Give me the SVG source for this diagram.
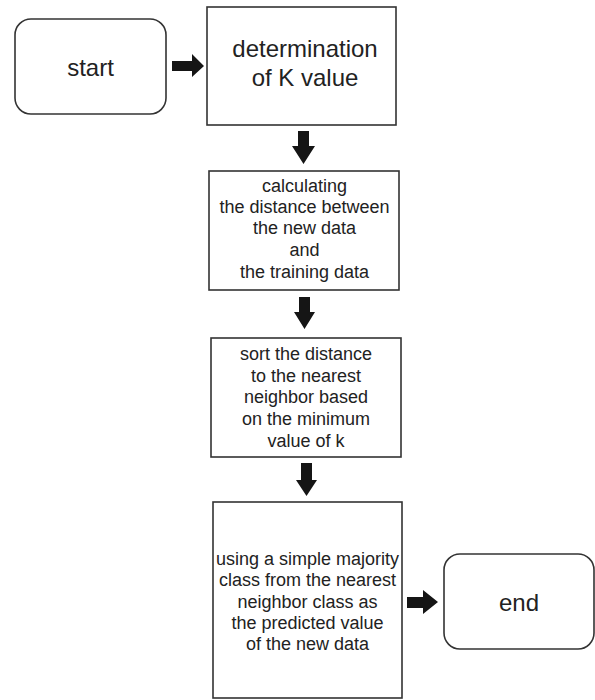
<svg xmlns="http://www.w3.org/2000/svg" width="595" height="700" viewBox="0 0 595 700">
<style>
.box{fill:#fff;stroke:#333;stroke-width:1.6}
.t{font-family:"Liberation Sans",Arial,sans-serif;fill:#222;text-anchor:middle}
.big{font-size:24px}
.sm{font-size:18px}
.arr{fill:#151515}
</style>
<rect width="595" height="700" fill="#fff"/>
<g id="start">
<rect class="box" x="15" y="19" width="151" height="95" rx="16"/>
<text class="t big" x="90.5" y="76">start</text>
</g>
<g id="determination">
<rect class="box" x="207" y="7" width="189" height="118"/>
<text class="t big" x="305" y="57">determination</text>
<text class="t big" x="305" y="86">of K value</text>
</g>
<g id="calculating">
<rect class="box" x="209" y="171" width="190" height="119"/>
<text class="t sm" x="304.5" y="192">calculating</text>
<text class="t sm" x="304.5" y="213">the distance between</text>
<text class="t sm" x="304.5" y="234">the new data</text>
<text class="t sm" x="304.5" y="256">and</text>
<text class="t sm" x="304.5" y="278">the training data</text>
</g>
<g id="sort">
<rect class="box" x="211" y="338" width="190" height="119"/>
<text class="t sm" x="306" y="360">sort the distance</text>
<text class="t sm" x="306" y="382">to the nearest</text>
<text class="t sm" x="306" y="403">neighbor based</text>
<text class="t sm" x="306" y="425">on the minimum</text>
<text class="t sm" x="306" y="447">value of k</text>
</g>
<g id="majority">
<rect class="box" x="213" y="502" width="189" height="196"/>
<text class="t sm" x="307.5" y="565">using a simple majority</text>
<text class="t sm" x="307.5" y="586">class from the nearest</text>
<text class="t sm" x="307.5" y="608">neighbor class as</text>
<text class="t sm" x="307.5" y="629">the predicted value</text>
<text class="t sm" x="307.5" y="650">of the new data</text>
</g>
<g id="end">
<rect class="box" x="444" y="554" width="150" height="95" rx="16"/>
<text class="t big" x="519" y="611">end</text>
</g>
<g id="connectors">
<polygon class="arr" points="172,61 192,61 192,54 204,66 192,77 192,71 172,71"/>
<polygon class="arr" points="298,131 309,131 309,146 315,146 303.5,164 292,146 298,146"/>
<polygon class="arr" points="299,297 310,297 310,312 315,312 304.5,329 294,312 299,312"/>
<polygon class="arr" points="301,463 312,463 312,480 317,480 306.5,496 296,480 301,480"/>
<polygon class="arr" points="407,597 423,597 423,590 438,602 423,614 423,608 407,608"/>
</g>
</svg>
